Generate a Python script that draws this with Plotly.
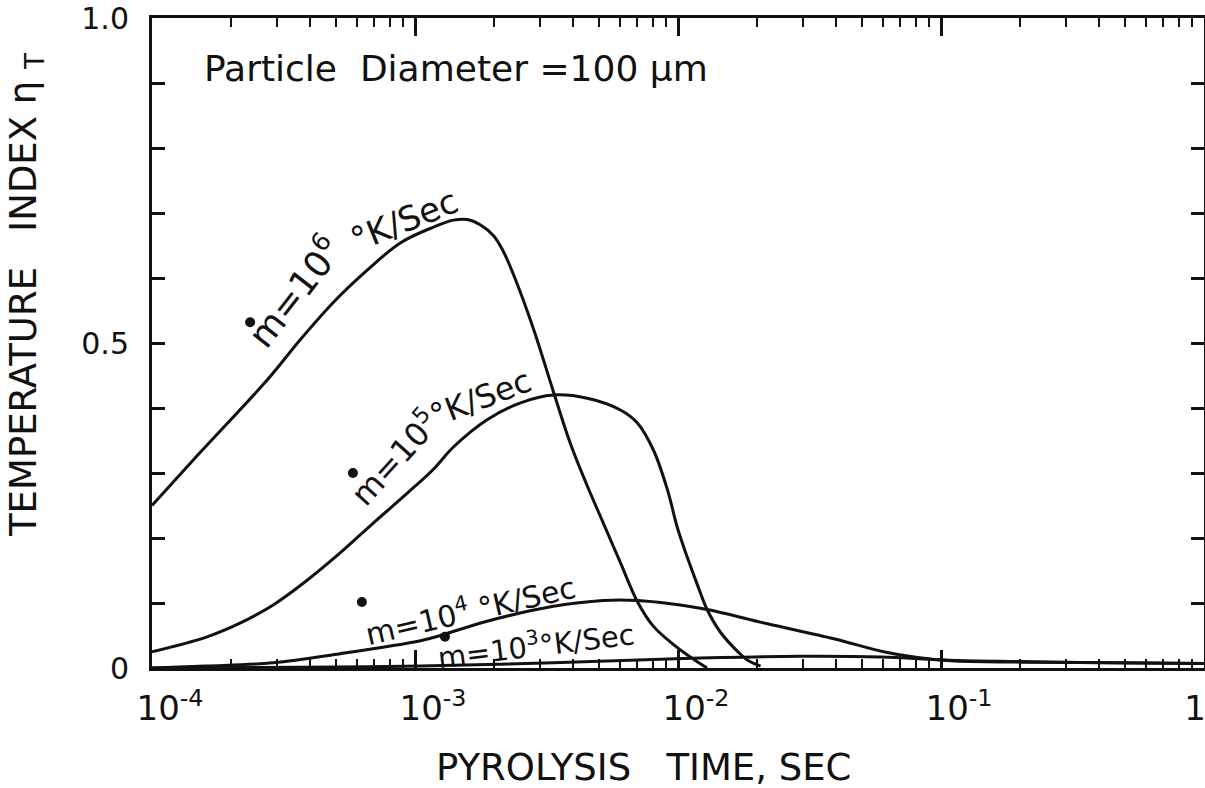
import plotly.graph_objects as go

# ---------------- data ----------------
t_1e6 = [1.0e-4, 1.52e-4, 2.74e-4, 3.66e-4, 4.88e-4, 6.58e-4, 8.79e-4, 1.17e-3, 1.40e-3,
         1.58e-3, 1.77e-3, 1.99e-3, 2.16e-3, 2.36e-3, 2.82e-3, 3.36e-3, 3.90e-3, 4.52e-3,
         5.20e-3, 6.04e-3, 7.01e-3, 8.07e-3, 9.62e-3, 1.15e-2, 1.29e-2]
eta_1e6 = [0.250, 0.331, 0.443, 0.505, 0.562, 0.612, 0.654, 0.678, 0.689,
           0.690, 0.682, 0.665, 0.642, 0.607, 0.522, 0.425, 0.345, 0.280,
           0.223, 0.162, 0.102, 0.064, 0.036, 0.013, 0.0]

t_1e5 = [1.0e-4, 1.62e-4, 2.16e-4, 2.89e-4, 3.89e-4, 5.19e-4, 6.94e-4, 9.35e-4, 1.17e-3,
         1.40e-3, 1.88e-3, 2.52e-3, 3.36e-3, 4.52e-3, 6.04e-3, 7.01e-3, 8.07e-3, 9.12e-3,
         9.96e-3, 1.09e-2, 1.19e-2, 1.29e-2, 1.45e-2, 1.68e-2, 1.84e-2, 2.06e-2]
eta_1e5 = [0.025, 0.048, 0.069, 0.097, 0.135, 0.177, 0.223, 0.269, 0.305,
           0.340, 0.382, 0.408, 0.420, 0.415, 0.397, 0.377, 0.335, 0.274,
           0.215, 0.168, 0.126, 0.090, 0.055, 0.026, 0.012, 0.003]

t_1e4 = [1.0e-4, 1.6e-4, 2.89e-4, 5.19e-4, 1.05e-3, 1.25e-3, 1.88e-3, 3.36e-3, 5.20e-3,
         7.01e-3, 9.36e-3, 1.29e-2, 2.19e-2, 3.91e-2, 6.05e-2, 8.15e-2, 1.09e-1, 2.0e-1,
         4.5e-1, 1.0]
eta_1e4 = [0.0, 0.003, 0.008, 0.022, 0.042, 0.050, 0.072, 0.095, 0.104,
           0.104, 0.099, 0.090, 0.068, 0.045, 0.025, 0.016, 0.011, 0.009,
           0.008, 0.007]

t_1e3 = [1.0e-4, 3.66e-4, 1.05e-3, 3.36e-3, 8.07e-3, 1.45e-2, 2.92e-2, 5.9e-2, 1.09e-1,
         2.0e-1, 4.5e-1, 1.0]
eta_1e3 = [0.0, 0.001, 0.003, 0.008, 0.013, 0.016, 0.018, 0.017, 0.012,
           0.010, 0.008, 0.007]

x_tickvals = [1e-4, 1e-3, 1e-2, 1e-1, 1]
x_ticktext = ["10<sup>-4</sup>", "10<sup>-3</sup>", "10<sup>-2</sup>", "10<sup>-1</sup>",
              "1" + "\u00a0" * 5]
y_tickvals = [0, 0.5, 1.0]
y_ticktext = ["0", "0.5", "1.0"]

x_minor = [k * 10.0 ** e for e in range(-4, 0) for k in range(2, 10)]
y_minor = [i / 10 for i in range(1, 10) if i != 5]

FONT = "DejaVu Sans"
INK = "#111111"
NB = "\u00a0"

fig = go.Figure()
for t, v in [(t_1e6, eta_1e6), (t_1e5, eta_1e5), (t_1e4, eta_1e4), (t_1e3, eta_1e3)]:
    fig.add_trace(go.Scatter(x=t, y=v, mode="lines",
                             line=dict(color=INK, width=3, shape="spline", smoothing=1.0),
                             hoverinfo="skip", showlegend=False))

# dots over the "m" (m-dot) in the curve labels
dot_x = [10 ** -3.627, 10 ** -3.236, 10 ** -3.202, 10 ** -2.886]
dot_y = [0.532, 0.300, 0.1015, 0.048]
fig.add_trace(go.Scatter(x=dot_x, y=dot_y, mode="markers",
                         marker=dict(color=INK, size=10), hoverinfo="skip", showlegend=False))

lab = dict(family=FONT, color=INK)
annotations = [
    dict(x=-3.462, y=0.580, text="m=10<sup>6</sup>", textangle=-52, font=dict(size=36, **lab)),
    dict(x=-3.040, y=0.690, text="°K/Sec", textangle=-22, font=dict(size=34, **lab)),
    dict(x=-3.082, y=0.325, text="m=10<sup>5</sup>", textangle=-48, font=dict(size=32, **lab)),
    dict(x=-2.750, y=0.415, text="°K/Sec", textangle=-21, font=dict(size=32, **lab)),
    dict(x=-2.791, y=0.090, text="m=10<sup>4</sup> °K/Sec", textangle=-13, font=dict(size=30, **lab)),
    dict(x=-2.540, y=0.037, text="m=10<sup>3</sup>°K/Sec", textangle=-7, font=dict(size=29, **lab)),
    dict(x=-2.844, y=0.923, text="Particle" + NB * 2 + "Diameter =100 μm", font=dict(size=36, **lab)),
]
for a in annotations:
    a.update(xref="x", yref="y", showarrow=False, xanchor="center", yanchor="middle")

annotations.append(dict(xref="paper", yref="paper", x=(643 - 152) / 1052, y=(668 - 768) / 650,
                        text="PYROLYSIS" + NB * 3 + "TIME," + NB + "SEC", showarrow=False,
                        xanchor="center", yanchor="middle", font=dict(size=37, **lab)))
annotations.append(dict(xref="paper", yref="paper", x=(26 - 152) / 1052, y=(668 - 295) / 650,
                        text="TEMPERATURE" + NB * 3 + "INDEX" + NB + "η" + NB + "<sub>T</sub>",
                        textangle=-90, showarrow=False,
                        xanchor="center", yanchor="middle", font=dict(size=37, **lab)))

fig.update_layout(
    width=1205, height=788,
    margin=dict(l=152, r=1, t=18, b=120, autoexpand=False),
    paper_bgcolor="white", plot_bgcolor="white",
    annotations=annotations,
    xaxis=dict(type="log", range=[-4, 0], tickmode="array", tickvals=x_tickvals, ticktext=x_ticktext,
               automargin=False,
               ticks="inside", ticklen=18, tickwidth=2.5, tickcolor=INK,
               showline=True, linewidth=3, linecolor=INK, mirror="ticks",
               showgrid=False, zeroline=False,
               tickfont=dict(family=FONT, size=34, color=INK),
               ticklabelstandoff=8, ticklabelshift=18, ticklabeloverflow="allow",
               minor=dict(tickmode="array", tickvals=x_minor, ticks="inside", ticklen=9,
                          tickwidth=2, tickcolor=INK, showgrid=False)),
    yaxis=dict(range=[0, 1.0], tickmode="array", tickvals=y_tickvals, ticktext=y_ticktext,
               automargin=False,
               ticks="inside", ticklen=13, tickwidth=2.5, tickcolor=INK,
               showline=True, linewidth=3, linecolor=INK, mirror="ticks",
               showgrid=False, zeroline=False,
               tickfont=dict(family=FONT, size=30, color=INK),
               ticklabelstandoff=14, ticklabeloverflow="allow",
               minor=dict(tickmode="array", tickvals=y_minor, ticks="inside", ticklen=13,
                          tickwidth=2.5, tickcolor=INK, showgrid=False)),
)

fig.write_html("out.html")
